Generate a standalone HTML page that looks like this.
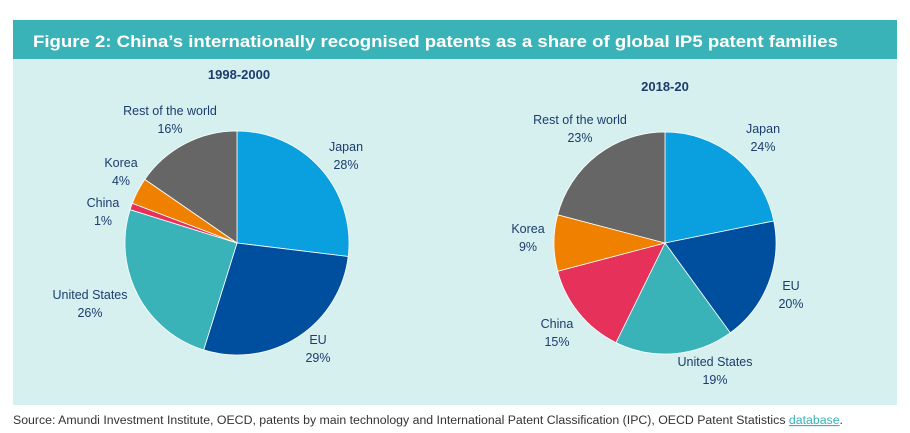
<!DOCTYPE html>
<html><head><meta charset="utf-8"><style>
body{margin:0;background:#fff;width:910px;height:433px;overflow:hidden}
svg{display:block;font-family:"Liberation Sans",sans-serif}
</style></head><body>
<svg id="chart" width="910" height="433">
<rect x="13" y="20" width="884" height="39" fill="#3ab3b8"/>
<text x="33" y="47" fill="#fff" font-size="17" font-weight="bold" textLength="805" lengthAdjust="spacingAndGlyphs">Figure 2: China’s internationally recognised patents as a share of global IP5 patent families</text>
<rect x="13" y="59" width="884" height="346" fill="#d6f0f0"/>
<text x="239" y="79" fill="#1c3c6c" font-size="13" font-weight="bold" text-anchor="middle">1998-2000</text>
<text x="665" y="91" fill="#1c3c6c" font-size="13" font-weight="bold" text-anchor="middle">2018-20</text>
<g id="pies"></g>
<text x="13" y="424" fill="#333" font-size="11.5" textLength="830" lengthAdjust="spacingAndGlyphs">Source: Amundi Investment Institute, OECD, patents by main technology and International Patent Classification (IPC), OECD Patent Statistics <tspan fill="#3ab3b8" text-decoration="underline">database</tspan>.</text>
</svg>
<script>
const categories = ["Japan","EU","United States","China","Korea","Rest of the world"];
const values1998 = [28,29,26,1,4,16];
const values2018 = [24,20,19,15,9,23];
const colors = ["#0a9fdf","#004f9f","#3ab3b8","#e6325a","#f08100","#666666"];
const NS="http://www.w3.org/2000/svg";
const g=document.getElementById("pies");
function pt(cx,cy,r,a){return [cx+r*Math.sin(a),cy-r*Math.cos(a)];}
function drawPie(vals,cx,cy,r,labels,key){
  const tot=vals.reduce((a,b)=>a+b,0);let a0=0;
  vals.forEach((v,i)=>{
    const a1=a0+v/tot*2*Math.PI;
    const p0=pt(cx,cy,r,a0),p1=pt(cx,cy,r,a1);
    const p=document.createElementNS(NS,"path");
    p.setAttribute("d",`M${cx},${cy}L${p0[0]},${p0[1]}A${r},${r} 0 ${a1-a0>Math.PI?1:0} 1 ${p1[0]},${p1[1]}Z`);
    p.setAttribute("fill",colors[i]);p.setAttribute("stroke","#fff");p.setAttribute("stroke-width","0.8");
    
    
    g.appendChild(p);
    const [lx,ly]=labels[i];
    [categories[i],v+"%"].forEach((s,k)=>{
      const t=document.createElementNS(NS,"text");
      t.setAttribute("x",lx);t.setAttribute("y",ly+k*18);t.setAttribute("font-size","12.5");
      t.setAttribute("fill","#1c3c6c");t.setAttribute("text-anchor","middle");t.textContent=s;
      
      
      g.appendChild(t);
    });
    a0=a1;
  });
}
drawPie(values1998,237,243,112,[[346,151],[318,344],[90,299],[103,207],[121,167],[170,115]],"1998");
drawPie(values2018,665,243,111,[[763,133],[791,290],[715,366],[557,328],[528,233],[580,124]],"2018");
</script>
</body></html>
